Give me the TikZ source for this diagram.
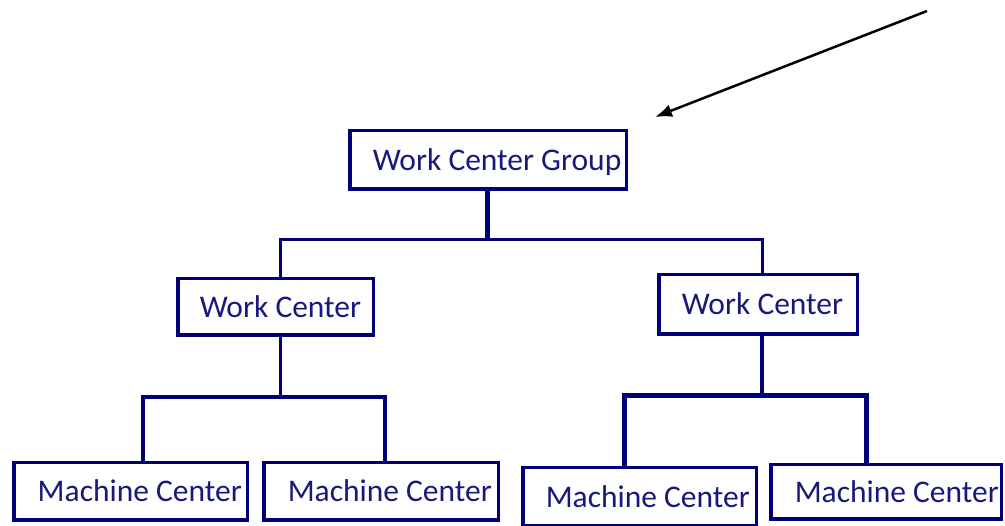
\documentclass[tikz,border=0pt]{standalone}
\usepackage{fontspec}
\setmainfont{Carlito}
\usetikzlibrary{arrows.meta}
\definecolor{navy}{RGB}{0,0,120}
\definecolor{txtc}{RGB}{25,25,125}
\newcommand\boxtext[3]{\makebox[#1pt][l]{\hspace{#2pt}#3}}
\begin{document}
\begin{tikzpicture}[x=1pt,y=-1pt,
  box/.style={draw=navy, line width=3.5pt, fill=white, inner sep=0pt,
    text=txtc, font=\fontsize{31.5}{36}\selectfont, text height=20.3pt, text depth=0pt},
  conn/.style={draw=navy, line width=3.5pt}]
\useasboundingbox[fill=white] (0,0) rectangle (1005,526);
% boxes
\node[box, minimum height=58.5pt] (wcg) at (488,160) {\boxtext{276.5}{23}{Work Center Group}};
\node[box, minimum height=56.5pt] (wc1) at (275.5,307) {\boxtext{195.5}{22}{Work Center}};
\node[box, minimum height=59.5pt] (wc2) at (758,304.5) {\boxtext{198.5}{23}{Work Center}};
\node[box, minimum height=57.5pt] (mc1) at (130.5,491.5) {\boxtext{233.5}{24}{Machine Center}};
\node[box, minimum height=57.5pt] (mc2) at (381,491.5) {\boxtext{234.5}{24}{Machine Center}};
\node[box, minimum height=58.5pt] (mc3) at (639.5,497) {\boxtext{233.5}{23}{Machine Center}};
\node[box, minimum height=54.5pt] (mc4) at (886,492) {\boxtext{230.5}{24}{Machine Center}};
% junction coordinates
\coordinate (t) at (487,240);
\coordinate (tl) at (280,240);
\coordinate (tr) at (762,240);
\coordinate (l) at (280,397);
\coordinate (l1) at (143,397);
\coordinate (l2) at (385,397);
\coordinate (r) at (762,396);
\coordinate (r1) at (624,396);
\coordinate (r2) at (866,396);
% connectors
\draw[conn, line width=5pt] (wcg.south -| t) -- (t);
\draw[conn, line width=3pt] (tl |- wc1.north) -- (tl) -- (tr) -- (tr |- wc2.north);
\draw[conn, line width=3pt] (l |- wc1.south) -- (l);
\draw[conn, line width=4.5pt] (l1 |- mc1.north) -- (l1) -- (l2) -- (l2 |- mc2.north);
\draw[conn, line width=3.5pt] (r |- wc2.south) -- (r);
\draw[conn, line width=5pt] (r1 |- mc3.north) -- (r1) -- (r2) -- (r2 |- mc4.north);
% arrow
\coordinate (as) at (927,11);
\coordinate (at) at (655,117);
\draw[line width=2.5pt, -{Latex[length=17pt,width=13pt]}] (as) -- (at);
\end{tikzpicture}
\end{document}
